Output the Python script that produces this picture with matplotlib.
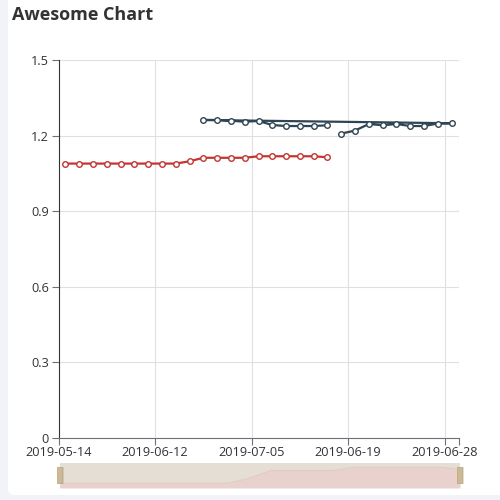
import matplotlib
matplotlib.use("Agg")
import matplotlib.pyplot as plt
from matplotlib.patches import FancyBboxPatch, Rectangle

# category axis: 29 slots, only every 7th one labelled
n_cats = 29
tick_idx = [0, 7, 14, 21, 28]
tick_labels = ["2019-05-14", "2019-06-12", "2019-07-05", "2019-06-19", "2019-06-28"]

# red series: slots 0..19
red_idx = list(range(20))
red_vals = [1.089, 1.089, 1.089, 1.089, 1.089, 1.089, 1.089, 1.089, 1.089, 1.098,
            1.112, 1.112, 1.112, 1.112, 1.118, 1.118, 1.118, 1.118, 1.118, 1.114]

# dark series, in data order (slots 20..28 come first, then 10..19)
dark_idx = [20, 21, 22, 23, 24, 25, 26, 27, 28, 10, 11, 12, 13, 14, 15, 16, 17, 18, 19]
dark_vals = [1.208, 1.220, 1.246, 1.241, 1.246, 1.238, 1.238, 1.248, 1.249,
             1.262, 1.262, 1.259, 1.255, 1.258, 1.242, 1.238, 1.238, 1.238, 1.241]

y_ticks = [0, 0.3, 0.6, 0.9, 1.2, 1.5]
y_labels = ["0", "0.3", "0.6", "0.9", "1.2", "1.5"]

plt.rcParams["font.family"] = ["Open Sans", "DejaVu Sans"]

fig = plt.figure(figsize=(5, 5), dpi=100)
fig.patch.set_facecolor("#f2f3f8")
card = FancyBboxPatch((8 / 500, 5 / 500), 1.0, 1.0, boxstyle="round,pad=0,rounding_size=0.012",
                      transform=fig.transFigure, facecolor="white", edgecolor="none", zorder=-10)
fig.patches.append(card)

fig.text(12 / 500, 1 - 15 / 500, "Awesome Chart", fontsize=13, fontweight="bold",
         color="#333333", va="center", ha="left")

ax = fig.add_axes([58.5 / 500, 62 / 500, 400 / 500, 378 / 500])
ax.set_facecolor("none")
ax.set_xlim(-0.5, n_cats - 0.5)
ax.set_ylim(0, 1.5)

# gridlines on band boundaries
grid_pos = [i - 0.5 for i in tick_idx] + [n_cats - 0.5]
for gx in grid_pos[1:]:
    ax.axvline(gx, color="#e0e0e0", lw=0.8, zorder=1)
for gy in y_ticks[1:]:
    ax.axhline(gy, color="#e0e0e0", lw=0.8, zorder=1)

ax.plot(red_idx, red_vals, color="#c23531", lw=1.6, marker="o", ms=4,
        markerfacecolor="white", markeredgecolor="#c23531", markeredgewidth=1, zorder=3)
ax.plot(dark_idx, dark_vals, color="#2f4554", lw=1.6, marker="o", ms=4,
        markerfacecolor="white", markeredgecolor="#2f4554", markeredgewidth=1, zorder=3)

ax.set_xticks(grid_pos)
ax.set_xticklabels(tick_labels + [""])
ax.set_yticks(y_ticks)
ax.set_yticklabels(y_labels)
ax.tick_params(axis="x", colors="#6e7079", labelcolor="#333333", length=5, width=0.8,
               labelsize=9.2, pad=1)
ax.tick_params(axis="y", colors="#6e7079", labelcolor="#333333", length=5, width=0.8,
               labelsize=9.2, pad=2)
for s in ["top", "right"]:
    ax.spines[s].set_visible(False)
ax.spines["bottom"].set_color("#6e7079")
ax.spines["bottom"].set_linewidth(0.8)
ax.spines["left"].set_color("#333333")
ax.spines["left"].set_linewidth(0.8)

# data zoom slider with shadow of the first series
sl = fig.add_axes([60 / 500, 12 / 500, 400 / 500, 25 / 500])
sl.set_zorder(1)
sl.set_facecolor("#e4ded5")
rng = max(red_vals) - min(red_vals)
sl.set_xlim(0, len(red_vals) - 1)
sl.set_ylim(min(red_vals) - 0.3 * rng, min(red_vals) - 0.3 * rng + 25 / 16 * rng)
sl.fill_between(range(len(red_vals)), sl.get_ylim()[0], red_vals, color="#e9d2cd", lw=0)
sl.plot(range(len(red_vals)), red_vals, color="#e2cbc4", lw=0.8)
sl.set_xticks([])
sl.set_yticks([])
for s in sl.spines.values():
    s.set_visible(False)

for hx in [60, 460]:
    fig.patches.append(Rectangle(((hx - 2) / 500, (25 - 8) / 500 - 1 / 500), 6 / 500, 17 / 500,
                                 transform=fig.transFigure, facecolor="#999", alpha=0.3,
                                 edgecolor="none", zorder=5))
    fig.patches.append(Rectangle(((hx - 3) / 500, (25 - 8) / 500), 5 / 500, 16 / 500,
                                 transform=fig.transFigure, facecolor="#cdb993",
                                 edgecolor="#b8a47c", lw=0.5, zorder=6))

fig.savefig("out.png", dpi=100, facecolor=fig.get_facecolor())
